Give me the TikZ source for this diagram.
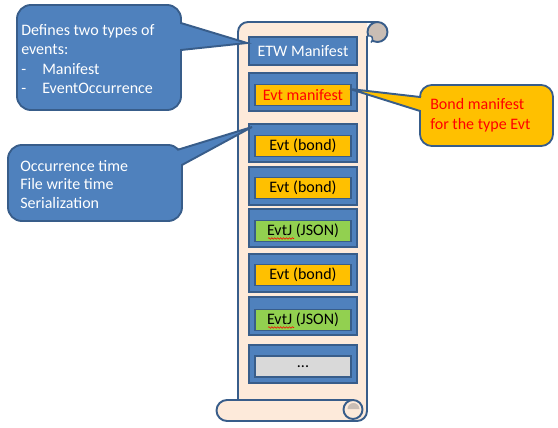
\documentclass[tikz,border=0pt]{standalone}
\usepackage{fontspec}
\setmainfont{Carlito}
\usetikzlibrary{calc,decorations.pathmorphing}
\definecolor{blueF}{HTML}{4F81BD}
\definecolor{blueD}{HTML}{385D8A}
\definecolor{peach}{HTML}{FDEADA}
\definecolor{orangeF}{HTML}{FFC000}
\definecolor{greenF}{HTML}{92D050}
\definecolor{grayF}{HTML}{D9D9D9}
\definecolor{curlF}{HTML}{C9BDB4}
\definecolor{redT}{HTML}{FF0000}
\begin{document}
\begin{tikzpicture}[x=0.75pt,y=-0.75pt,
  font=\fontsize{12}{14.5}\selectfont,
  bline/.style={draw=blueD, line width=1.45pt},
  outerbox/.style={bline, fill=blueF, minimum width=81pt, minimum height=28.5pt, inner sep=0pt},
  innerbox/.style={bline, minimum width=72pt, minimum height=15.75pt, inner sep=0pt, text=black},
  bondbox/.style={innerbox, fill=orangeF},
  jsonbox/.style={innerbox, fill=greenF},
  morebox/.style={innerbox, fill=grayF},
  calltext/.style={align=left, inner sep=0pt, anchor=west},
  squiggle/.style={draw=redT, line width=0.4pt, decorate, decoration={snake, amplitude=0.6pt, segment length=2.2pt}},
  scrollline/.style={draw=blueD, line width=1.45pt, line join=round}
]
\useasboundingbox (0,0) rectangle (558,428);

% ---------- scroll ----------
\fill[peach] (238,411) -- (238,32) .. controls (238,26.5) and (242.5,22) .. (248,22) -- (367,22) -- (367,411) -- cycle;
\draw[scrollline] (238,400) -- (238,32) .. controls (238,26.5) and (242.5,22) .. (248,22) -- (377,22);
% bottom band
\fill[peach] (227,400) -- (367,400) -- (367,411) .. controls (367,416.5) and (362.5,421) .. (357,421) -- (227,421) .. controls (221.2,421) and (216.5,416.3) .. (216.5,410.5) .. controls (216.5,404.7) and (221.2,400) .. (227,400) -- cycle;
\draw[scrollline] (353,400) -- (227,400) .. controls (221.2,400) and (216.5,404.7) .. (216.5,410.5) .. controls (216.5,416.3) and (221.2,421) .. (227,421) -- (357,421) .. controls (362.5,421) and (367,416.5) .. (367,411) -- (367,36);
% bottom curl
\filldraw[scrollline, fill=peach] (353,409.5) circle[radius=9.5];
\fill[curlF] (347.5,409) .. controls (347.5,405.7) and (350.2,403) .. (353.5,403) .. controls (356.8,403) and (359.5,405.7) .. (359.5,409) -- cycle;
% top curl
\filldraw[scrollline, fill=curlF] (377.5,32) circle[radius=10];
\fill[white] (368,36) rectangle (371.5,42);
\draw[draw=blueD, line width=1.1pt] (367,36) -- (370.5,36) .. controls (373,36) and (373,41.5) .. (371,42.5);

% ---------- boxes ----------
\node[outerbox, minimum height=21pt, text=white] (b1) at (303,51) {ETW Manifest};
\node[outerbox] (b2) at (303,92) {};
\node[bondbox, text=redT] (i2) at (303,95) {Evt manifest};
\node[outerbox] (b3) at (303,143) {};
\node[bondbox] (i3) at (303,146) {Evt (bond)};
\node[outerbox] (b4) at (303,186) {};
\node[bondbox] (i4) at (303,188) {Evt (bond)};
\node[outerbox] (b5) at (303,228) {};
\node[jsonbox] (i5) at (303,231) {EvtJ (JSON)};
\node[outerbox] (b6) at (303,273) {};
\node[bondbox] (i6) at (303,275) {Evt (bond)};
\node[outerbox] (b7) at (303,316) {};
\node[jsonbox] (i7) at (303,320) {EvtJ (JSON)};
\node[outerbox] (b8) at (303,364) {};
\node[morebox] (i8) at (303,366.5) {...};
\draw[squiggle] ($(i5.center)+(-35,7.5)$) -- ++(26,0);
\draw[squiggle] ($(i7.center)+(-35,7.5)$) -- ++(26,0);

% ---------- callout 1 ----------
\coordinate (tip1) at (247,43);
\filldraw[bline, fill=blueF, rounded corners=10.5pt] (17,5) rectangle (181,110);
\filldraw[bline, fill=blueF, line join=miter] (165,18.2) -- (tip1) -- (165,51.7) -- cycle;
\fill[blueF, rounded corners=9.7pt] (18.2,6.2) rectangle (179.8,108.8);
\node[calltext, text=white] (t1) at (21,59) {Defines two types of\\events:\\\makebox[15.75pt][l]{-}Manifest\\\makebox[15.75pt][l]{-}EventOccurrence};

% ---------- callout 2 ----------
\coordinate (tip2) at (252,127);
\filldraw[bline, fill=blueF, rounded corners=10.5pt] (8,145) rectangle (182,221);
\filldraw[bline, fill=blueF, line join=miter] (165,153.7) -- (tip2) -- (165,174.2) -- cycle;
\fill[blueF, rounded corners=9.7pt] (9.2,146.2) rectangle (180.8,219.8);
\node[calltext, text=white, font=\fontsize{12}{13.9}\selectfont] (t2) at (20,184.5) {Occurrence time\\File write time\\Serialization};

% ---------- callout 3 ----------
\coordinate (tip3) at (350,89);
\filldraw[bline, fill=orangeF, rounded corners=9pt] (420,85) rectangle (553,146);
\filldraw[bline, fill=orangeF, line join=miter] (435,98.7) -- (tip3) -- (435,115.7) -- cycle;
\fill[orangeF, rounded corners=8.2pt] (421.2,86.2) rectangle (551.8,144.8);
\node[calltext, text=redT, font=\fontsize{12}{15}\selectfont] (t3) at (430,115) {Bond manifest\\for the type Evt};
\end{tikzpicture}
\end{document}
